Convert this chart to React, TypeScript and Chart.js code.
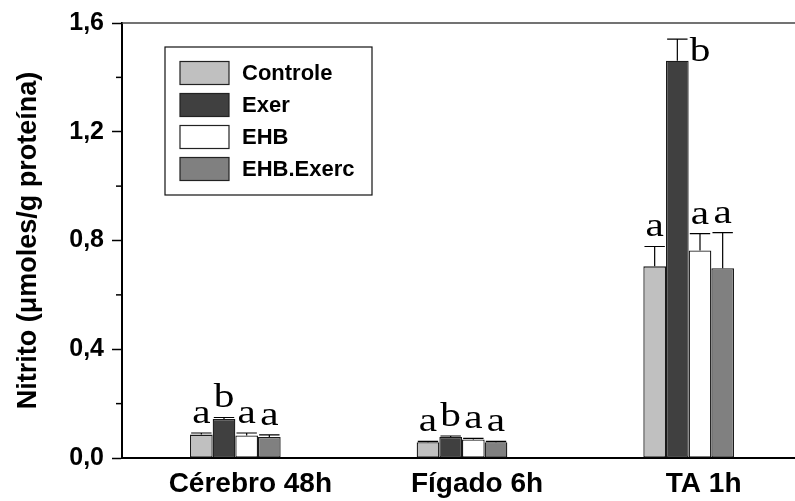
import React, { useEffect, useRef } from "react";
import { Chart, registerables } from "chart.js";

Chart.register(...registerables);

const categories = ["Cérebro 48h", "Fígado 6h", "TA 1h"];
const seriesNames = ["Controle", "Exer", "EHB", "EHB.Exerc"];
const seriesColors = ["#c0c0c0", "#404040", "#ffffff", "#808080"];

const controle = [0.086, 0.058, 0.705];
const exer = [0.143, 0.077, 1.461];
const ehb = [0.083, 0.068, 0.763];
const ehbExerc = [0.077, 0.058, 0.698];

const controleErr = [0.006, 0.003, 0.073];
const exerErr = [0.006, 0.004, 0.08];
const ehbErr = [0.009, 0.004, 0.062];
const ehbExercErr = [0.008, 0.003, 0.131];

const controleLetters = ["a", "a", "a"];
const exerLetters = ["b", "b", "b"];
const ehbLetters = ["a", "a", "a"];
const ehbExercLetters = ["a", "a", "a"];

const yTicks = [0, 0.4, 0.8, 1.2, 1.6];

const SANS = "'Liberation Sans', Arial, sans-serif";

const errorsPlugin = {
  id: "errorsAndLetters",
  afterDatasetsDraw(chart: any) {
    const ctx = chart.ctx;
    const y = chart.scales.y;
    const area = chart.chartArea;
    chart.data.datasets.forEach((ds: any, di: number) => {
      const meta = chart.getDatasetMeta(di);
      meta.data.forEach((bar: any, i: number) => {
        const v = ds.data[i];
        const e = ds.errors[i];
        const yTop = y.getPixelForValue(v);
        const yErr = y.getPixelForValue(v + e);
        const half = bar.width * 0.45;
        ctx.save();
        ctx.strokeStyle = "#000";
        ctx.lineWidth = 1.2;
        ctx.beginPath();
        ctx.moveTo(bar.x, yTop);
        ctx.lineTo(bar.x, yErr);
        ctx.moveTo(bar.x - half, yErr);
        ctx.lineTo(bar.x + half, yErr);
        ctx.stroke();
        const letter = ds.letters[i];
        ctx.fillStyle = "#000";
        ctx.font = "33px 'Liberation Serif', serif";
        ctx.textBaseline = "alphabetic";
        const base = yErr - 10;
        if (base - 22 < area.top) {
          ctx.textAlign = "left";
          ctx.translate(bar.x + bar.width / 2 + 1, yTop);
        } else {
          ctx.textAlign = "center";
          ctx.translate(bar.x, base);
        }
        ctx.scale(1.25, 1);
        ctx.fillText(letter, 0, 0);
        ctx.restore();
      });
    });
  },
};

const framePlugin = {
  id: "frameAndMinor",
  afterDraw(chart: any) {
    const ctx = chart.ctx;
    const area = chart.chartArea;
    const y = chart.scales.y;
    ctx.save();
    ctx.strokeStyle = "#444";
    ctx.lineWidth = 1.5;
    ctx.beginPath();
    ctx.moveTo(area.left, area.top);
    ctx.lineTo(area.right, area.top);
    ctx.stroke();
    ctx.strokeStyle = "#000";
    ctx.lineWidth = 1.5;
    const t = y.ticks.map((k: any) => k.value);
    for (let i = 0; i < t.length - 1; i++) {
      const py = y.getPixelForValue((t[i] + t[i + 1]) / 2);
      ctx.beginPath();
      ctx.moveTo(area.left - 6, py);
      ctx.lineTo(area.left, py);
      ctx.stroke();
    }
    const lx = area.left + 43;
    const ly = area.top + 24;
    const lw = 207;
    const lh = 148;
    ctx.fillStyle = "#fff";
    ctx.fillRect(lx, ly, lw, lh);
    ctx.strokeStyle = "#111";
    ctx.lineWidth = 1.2;
    ctx.strokeRect(lx, ly, lw, lh);
    chart.data.datasets.forEach((ds: any, i: number) => {
      const cy = ly + 26 + i * 32;
      ctx.fillStyle = ds.backgroundColor;
      ctx.fillRect(lx + 15, cy - 11.5, 49, 23);
      ctx.strokeStyle = "#222";
      ctx.lineWidth = 1.2;
      ctx.strokeRect(lx + 15, cy - 11.5, 49, 23);
      ctx.fillStyle = "#000";
      ctx.font = `bold 22px ${SANS}`;
      ctx.textAlign = "left";
      ctx.textBaseline = "middle";
      ctx.fillText(ds.label, lx + 77, cy + 1);
    });
    ctx.restore();
  },
};

export default function App() {
  const ref = useRef<HTMLCanvasElement | null>(null);
  useEffect(() => {
    document.body.style.margin = "0";
    document.body.style.overflow = "hidden";
    const values = [controle, exer, ehb, ehbExerc];
    const errs = [controleErr, exerErr, ehbErr, ehbExercErr];
    const letters = [controleLetters, exerLetters, ehbLetters, ehbExercLetters];
    const chart = new Chart(ref.current as HTMLCanvasElement, {
      type: "bar",
      data: {
        labels: categories,
        datasets: seriesNames.map((name, i) => ({
          label: name,
          data: values[i],
          errors: errs[i],
          letters: letters[i],
          backgroundColor: seriesColors[i],
          borderColor: "#1a1a1a",
          borderWidth: 1.3,
          borderSkipped: false,
          categoryPercentage: 0.4,
          barPercentage: 1.0,
        })) as any,
      },
      options: {
        responsive: false,
        animation: false,
        layout: { padding: { top: 18, right: 8, bottom: 0, left: 0 } },
        plugins: {
          legend: { display: false },
          tooltip: { enabled: false },
        },
        scales: {
          x: {
            offset: true,
            grid: { display: false, drawTicks: false },
            border: { display: true, color: "#000", width: 2 },
            ticks: {
              padding: 9,
              labelOffset: 15,
              color: "#000",
              font: { family: SANS, size: 28, weight: "bold" },
            },
            afterFit: (s: any) => {
              s.height = 43;
            },
          },
          y: {
            min: 0,
            max: 1.6,
            afterBuildTicks: (s: any) => {
              s.ticks = yTicks.map((v) => ({ value: v }));
            },
            ticks: {
              padding: 8,
              color: "#000",
              font: { family: SANS, size: 25, weight: "bold" },
              callback: (v: any) => Number(v).toFixed(1).replace(".", ","),
            },
            grid: {
              drawOnChartArea: false,
              drawTicks: true,
              tickLength: 10,
              tickWidth: 1.5,
              tickColor: "#000",
            },
            border: { display: true, color: "#000", width: 2 },
            title: {
              display: true,
              text: "Nitrito (μmoles/g proteína)",
              color: "#000",
              font: { family: SANS, size: 27, weight: "bold" },
              padding: { top: 12, bottom: 0 },
            },
            afterFit: (s: any) => {
              s.width = 122;
            },
          },
        },
      },
      plugins: [errorsPlugin, framePlugin],
    } as any);
    return () => chart.destroy();
  }, []);
  return (
    <div style={{ width: 795, height: 501, overflow: "hidden" }}>
      <canvas ref={ref} width={810} height={501} style={{ display: "block" }} />
    </div>
  );
}
